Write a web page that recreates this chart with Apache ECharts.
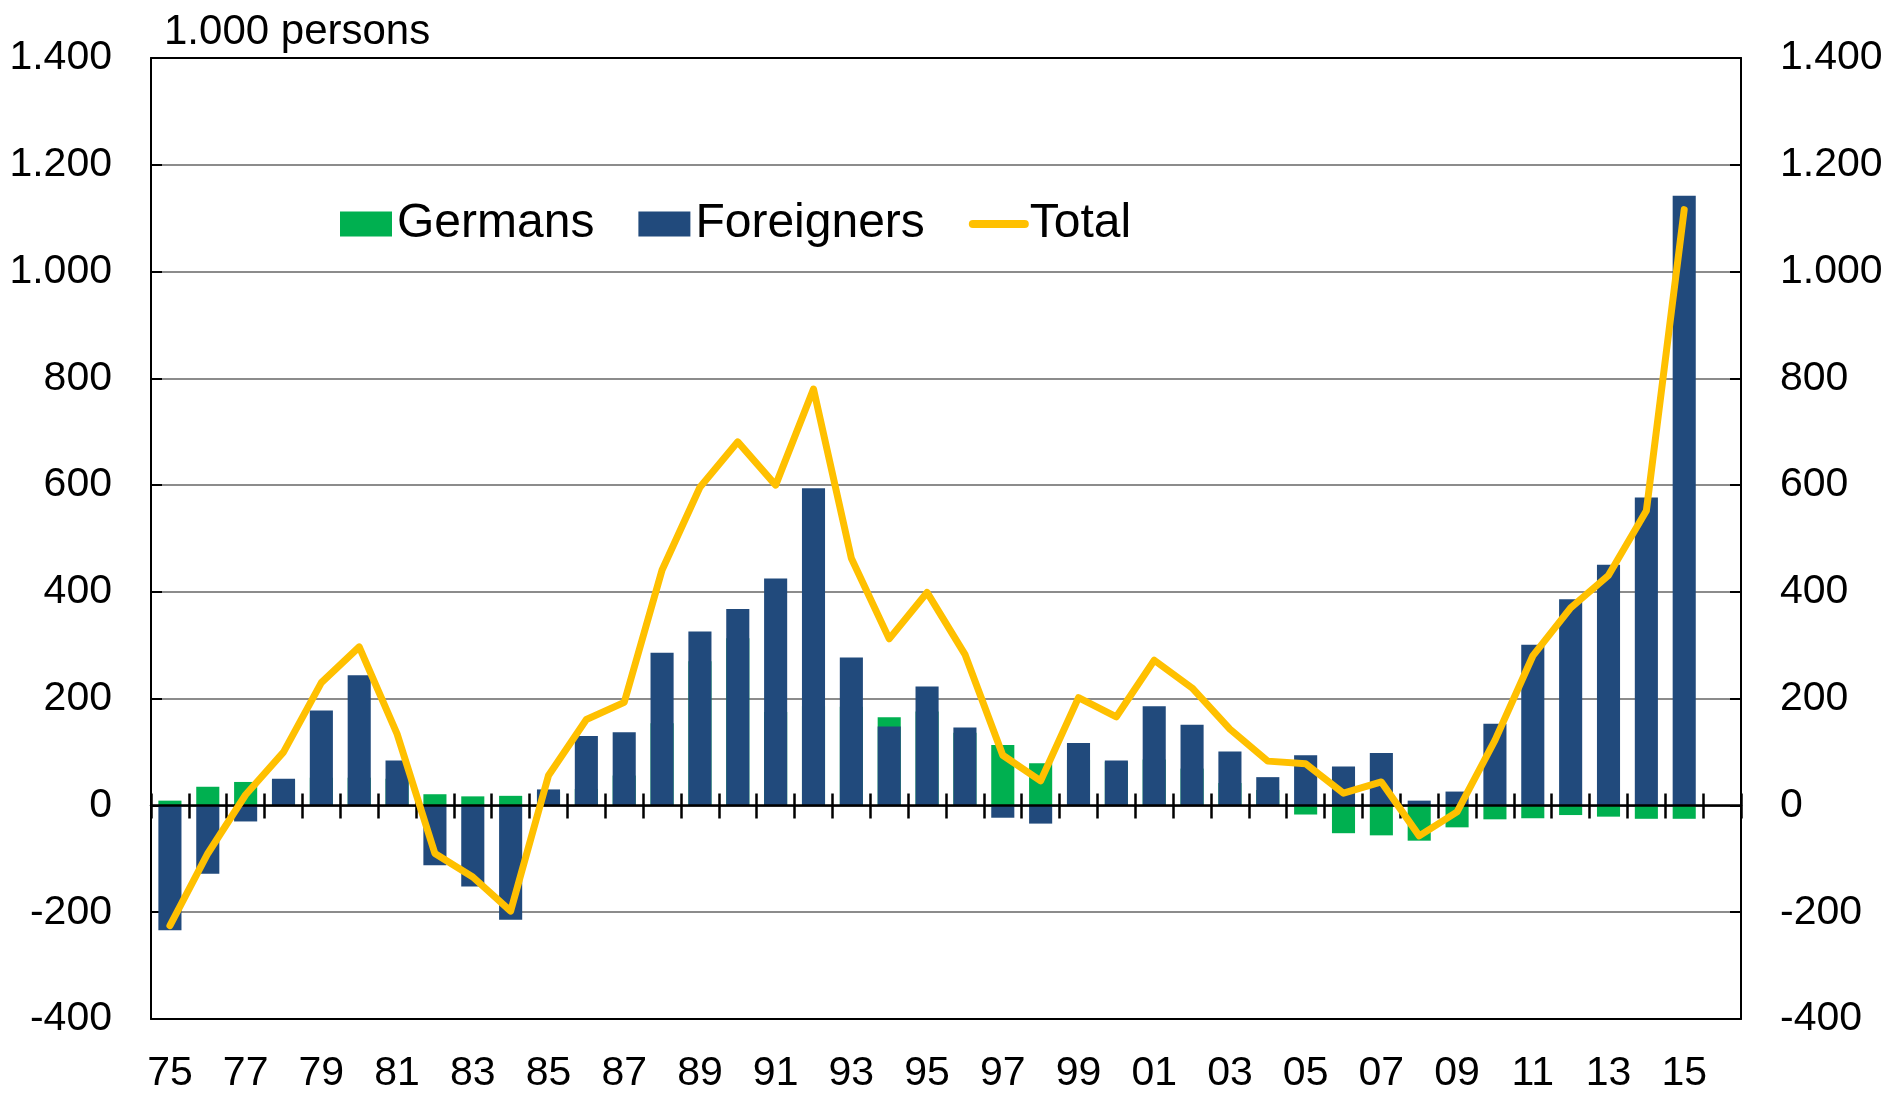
<!DOCTYPE html>
<html>
<head>
<meta charset="utf-8">
<script src="https://cdn.jsdelivr.net/npm/echarts@6/dist/echarts.min.js"></script>
<style>
html,body{margin:0;padding:0;background:#fff;}
#chart{width:1891px;height:1094px;}
</style>
</head>
<body>
<div id="chart"></div>
<script>
// Years 1975..2016 (2016 is an empty slot at the right edge)
const years = ['75','76','77','78','79','80','81','82','83','84','85','86','87','88','89','90','91','92','93','94','95','96','97','98','99','00','01','02','03','04','05','06','07','08','09','10','11','12','13','14','15','16'];
const germans = [9, 35, 44, 48, 52, 52, 50, 21, 17, 18, 26, 31, 56, 154, 270, 313, 175, 186, 185, 165, 176, 136, 113, 79, 86, 82, 86, 69, 42, 29, -17, -52, -56, -66, -41, -26, -24, -18, -21, -25, -25, null];
const foreigners = [-234, -128, -30, 50, 178, 244, 84, -112, -152, -214, 30, 130, 137, 286, 326, 368, 425, 594, 277, 148, 223, 146, -23, -34, 117, 84, 186, 151, 101, 53, 94, 73, 98, 9, 26, 153, 301, 386, 451, 577, 1142, null];
const total = [-225, -90, 20, 100, 230, 297, 134, -90, -134, -198, 56, 161, 193, 441, 596, 681, 600, 780, 463, 312, 399, 283, 94, 46, 202, 166, 272, 220, 143, 83, 78, 23, 44, -57, -12, 122, 280, 370, 431, 552, 1116, null];
const yMin = -400, yMax = 1400, yStep = 200;

const FONT = "'Liberation Sans', Arial, sans-serif";
function fmt(v) {
  const s = String(Math.abs(v));
  const out = s.length > 3 ? s.slice(0, s.length - 3) + '.' + s.slice(s.length - 3) : s;
  return (v < 0 ? '-' : '') + out;
}

const chart = echarts.init(document.getElementById('chart'), null, {renderer: 'canvas'});
const yCommon = {
  type: 'value', min: yMin, max: yMax, interval: yStep,
  axisLine: {show: true, onZero: false, lineStyle: {color: '#000', width: 2}},
  axisTick: {show: true, inside: true, length: 11, lineStyle: {color: '#000', width: 2}},
  axisLabel: {fontFamily: FONT, fontSize: 41, color: '#000', margin: 39, formatter: fmt}
};
chart.setOption({
  animation: false,
  backgroundColor: '#fff',
  title: {
    text: '1.000 persons', left: 164, top: 11, padding: 0,
    textStyle: {fontFamily: FONT, fontSize: 42, fontWeight: 'normal', color: '#000'}
  },
  legend: {
    left: 340, top: 200, padding: 0, itemGap: 44, itemWidth: 52, itemHeight: 25,
    textStyle: {fontFamily: FONT, fontSize: 48, color: '#000'},
    data: [
      {name: 'Germans', icon: 'rect'},
      {name: 'Foreigners', icon: 'rect'},
      {name: 'Total', itemStyle: {opacity: 0}, lineStyle: {width: 8, cap: 'round', color: '#FFC000'}}
    ]
  },
  grid: {left: 151, right: 150, top: 58, bottom: 70, containLabel: false},
  xAxis: [
    { type: 'category', data: years, position: 'bottom',
      axisLine: {show: true, onZero: false, lineStyle: {color: '#000', width: 2}},
      axisTick: {show: false},
      axisLabel: {interval: 1, fontFamily: FONT, fontSize: 41, color: '#000', margin: 34},
      splitLine: {show: false} },
    { type: 'category', data: years, position: 'top',
      axisLine: {show: true, onZero: false, lineStyle: {color: '#000', width: 2}},
      axisTick: {show: false}, axisLabel: {show: false}, splitLine: {show: false} },
    { type: 'category', data: years, position: 'bottom', z: 4,
      axisLine: {show: true, onZero: true, onZeroAxisIndex: 0, lineStyle: {color: '#000', width: 2.5}},
      axisTick: {show: true, inside: true, interval: 0, length: 12, lineStyle: {color: '#000', width: 2.5}},
      axisLabel: {show: false}, splitLine: {show: false} },
    { type: 'category', data: years, position: 'bottom', z: 4,
      axisLine: {show: false, onZero: true, onZeroAxisIndex: 0},
      axisTick: {show: true, inside: false, interval: 0, length: 13, lineStyle: {color: '#000', width: 2.5}},
      axisLabel: {show: false}, splitLine: {show: false} }
  ],
  yAxis: [
    Object.assign({}, yCommon, {position: 'left',
      splitLine: {show: true, showMinLine: false, showMaxLine: false, lineStyle: {color: '#8c8c8c', width: 2}}}),
    Object.assign({}, yCommon, {position: 'right', splitLine: {show: false}})
  ],
  series: [
    { name: 'Germans', type: 'bar', xAxisIndex: 0, yAxisIndex: 0, data: germans,
      barWidth: '61%', barGap: '-100%', itemStyle: {color: '#00B050'}, z: 2 },
    { name: 'Foreigners', type: 'bar', xAxisIndex: 0, yAxisIndex: 0, data: foreigners,
      barWidth: '61%', barGap: '-100%', itemStyle: {color: '#214A7C'}, z: 2 },
    { name: 'Total', type: 'line', xAxisIndex: 0, yAxisIndex: 0, data: total,
      showSymbol: false, symbol: 'none', z: 6,
      lineStyle: {color: '#FFC000', width: 7, cap: 'round', join: 'round'},
      itemStyle: {color: '#FFC000'} }
  ]
});
</script>
</body>
</html>
